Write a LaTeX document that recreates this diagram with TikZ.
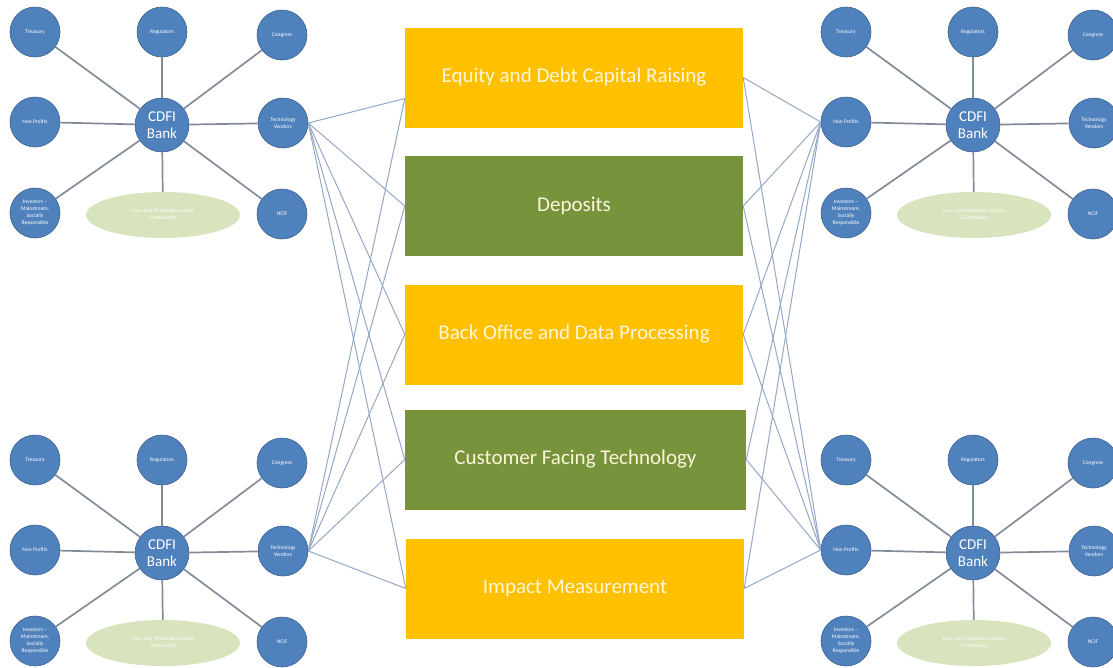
\documentclass[tikz,border=0pt]{standalone}
\usepackage{fontspec}
\setmainfont{Carlito}
\usetikzlibrary{shapes.geometric}

\definecolor{cdfiblue}{RGB}{79,129,189}
\definecolor{cdfirim}{RGB}{60,98,145}
\definecolor{spoke}{RGB}{130,140,152}
\definecolor{crossline}{RGB}{148,168,198}
\definecolor{boxgold}{RGB}{255,192,0}
\definecolor{boxgreen}{RGB}{119,147,60}
\definecolor{commgreen}{RGB}{215,228,189}
\definecolor{boxtext}{RGB}{252,246,218}

\tikzset{
	party/.style={circle, fill=cdfiblue, draw=cdfirim, line width=0.6pt, minimum size=50pt, inner sep=0pt, text=white, align=center, font=\fontsize{5.5}{7}\selectfont},
	bank/.style={party, minimum size=54pt, font=\fontsize{15}{17}\selectfont},
	community/.style={ellipse, fill=commgreen, minimum width=154pt, minimum height=46pt, inner sep=0pt, text=white, align=center, font=\fontsize{5.5}{7}\selectfont},
	area/.style={rectangle, minimum width=338pt, minimum height=100pt, text=boxtext, font=\fontsize{21}{24}\selectfont},
	spokeline/.style={draw=spoke, line width=1.7pt},
	linkline/.style={draw=crossline, line width=1pt}
}

\begin{document}
\begin{tikzpicture}[x=1pt, y=-1pt]
	\useasboundingbox (0,0) rectangle (1113,667);

	% Business areas in the middle
	\node[area, fill=boxgold] (eq) at (574,77.5) {Equity and Debt Capital Raising};
	\node[area, fill=boxgreen] (dep) at (574,206) {Deposits};
	\node[area, fill=boxgold] (bo) at (574,334.5) {Back Office and Data Processing};
	\node[area, fill=boxgreen, minimum width=341pt] (cft) at (575.5,459.5) {Customer Facing Technology};
	\node[area, fill=boxgold] (im) at (575,588.5) {Impact Measurement};

	% Four CDFI clusters
	\foreach \cx/\cy/\n in {162/125/tl, 973/125/tr, 162/553/bl, 973/553/br}{
		\begin{scope}[shift={(\cx,\cy)}]
			\node[bank] (\n-bank) at (0,0) {CDFI\\Bank};
			\node[party] (\n-tre) at (-127,-93) {Treasury};
			\node[party] (\n-reg) at (0,-93) {Regulators};
			\node[party] (\n-con) at (120,-90) {Congress};
			\node[party] (\n-np) at (-127,-3) {Non Profits};
			\node[party] (\n-tv) at (121,-2) {Technology\\Vendors};
			\node[party] (\n-inv) at (-127,88) {Investors --\\Mainstream,\\Socially\\Responsible};
			\node[community] (\n-com) at (1,90) {Low- and Moderate-Income\\Community};
			\node[party] (\n-ncif) at (120,89) {NCIF};
			%Spokes
			\foreach \p in {tre,reg,con,np,tv,inv,com,ncif}
				\draw[spokeline] (\n-bank) -- (\n-\p);
		\end{scope}
	}

	% Links from the left clusters
	\coordinate (eq-in) at ([yshift=-21pt]eq.west);
	\foreach \b in {eq-in,dep.west,bo.west,cft.west,im.west}{
		\draw[linkline] (tl-tv.east) -- (\b);
		\draw[linkline] (bl-tv.east) -- (\b);
	}
	% Links from the right clusters
	\foreach \b in {eq,dep,bo,cft,im}{
		\draw[linkline] (tr-np.west) -- (\b.east);
		\draw[linkline] (br-np.west) -- (\b.east);
	}

\end{tikzpicture}
\end{document}
